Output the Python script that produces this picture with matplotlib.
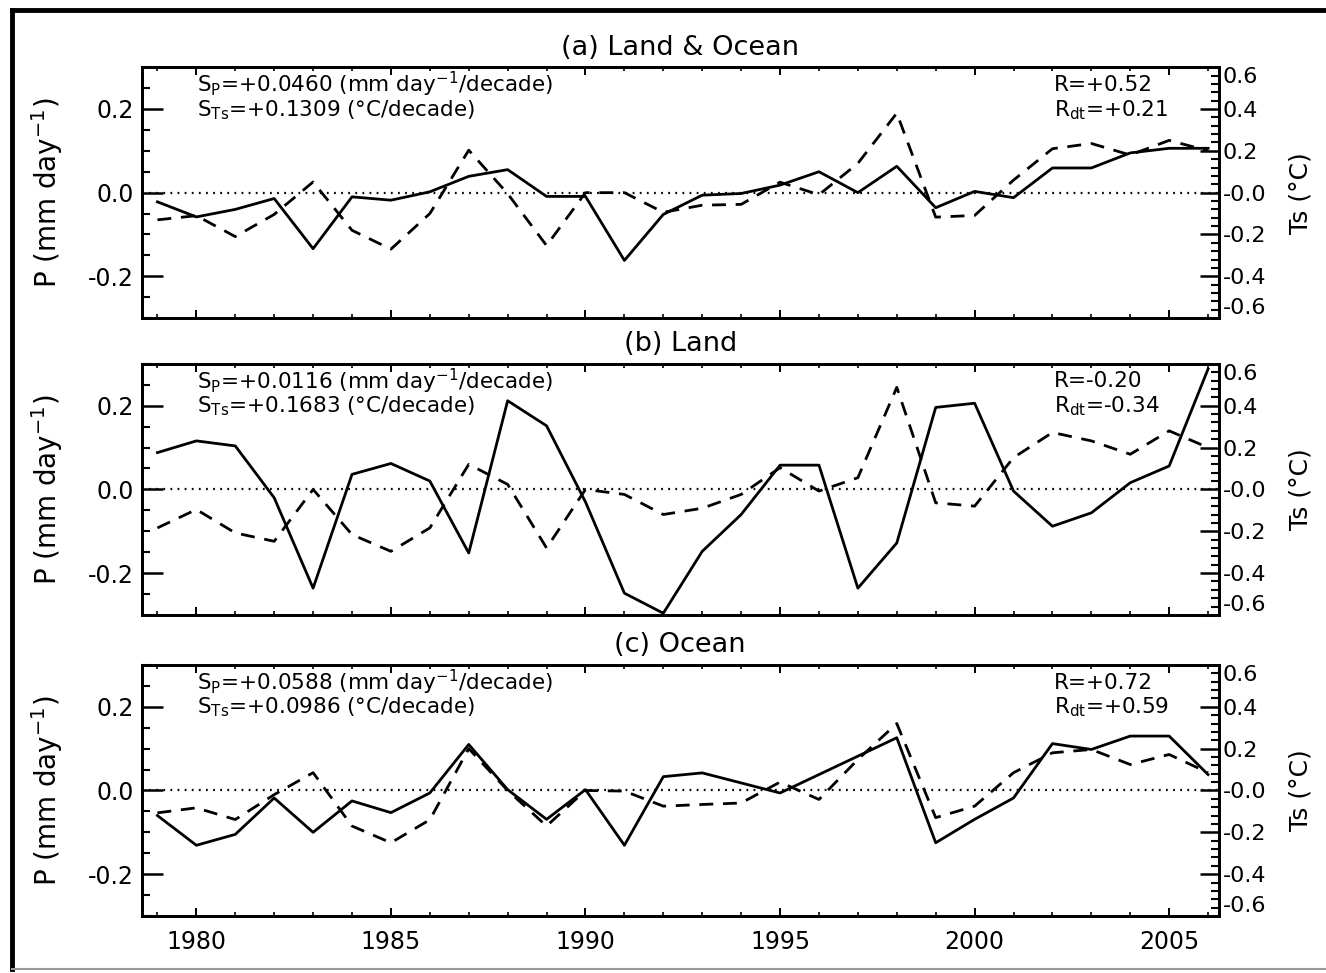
import numpy as np
import matplotlib
matplotlib.use('Agg')
import matplotlib.pyplot as plt
from matplotlib.ticker import MultipleLocator
from matplotlib.lines import Line2D

years = np.arange(1979, 2007)

# (a) land & ocean
p_all = [-0.022, -0.058, -0.040, -0.014, -0.134, -0.010, -0.018, 0.002, 0.039, 0.055,
         -0.009, -0.009, -0.162, -0.052, -0.006, -0.002, 0.018, 0.050, 0.000, 0.063,
         -0.036, 0.003, -0.012, 0.059, 0.059, 0.095, 0.106, 0.106]
ts_all = [-0.130, -0.110, -0.210, -0.104, 0.051, -0.180, -0.270, -0.100, 0.203, -0.005,
          -0.253, 0.000, 0.000, -0.094, -0.060, -0.056, 0.050, -0.010, 0.140, 0.380,
          -0.117, -0.109, 0.060, 0.210, 0.235, 0.180, 0.250, 0.200]

# (b) land
p_land = [0.088, 0.116, 0.104, -0.020, -0.236, 0.036, 0.062, 0.020, -0.152, 0.212,
          0.152, -0.030, -0.248, -0.296, -0.148, -0.060, 0.058, 0.058, -0.236, -0.128,
          0.196, 0.206, -0.004, -0.088, -0.056, 0.016, 0.056, 0.288]
ts_land = [-0.184, -0.096, -0.208, -0.248, 0.000, -0.216, -0.296, -0.184, 0.120, 0.024,
           -0.280, 0.000, -0.024, -0.120, -0.090, -0.024, 0.104, -0.008, 0.056, 0.488,
           -0.064, -0.080, 0.152, 0.272, 0.232, 0.168, 0.280, 0.200]

# (c) ocean
p_ocean = [-0.060, -0.131, -0.105, -0.018, -0.100, -0.025, -0.053, -0.006, 0.110, 0.002,
           -0.069, 0.002, -0.131, 0.033, 0.042, 0.018, -0.006, 0.038, 0.082, 0.126,
           -0.125, -0.069, -0.018, 0.112, 0.098, 0.130, 0.130, 0.038]
ts_ocean = [-0.107, -0.083, -0.139, -0.020, 0.085, -0.170, -0.250, -0.140, 0.200, 0.000,
            -0.170, 0.000, -0.003, -0.075, -0.067, -0.060, 0.040, -0.043, 0.148, 0.320,
            -0.130, -0.075, 0.085, 0.180, 0.196, 0.124, 0.172, 0.085]

titles = ['(a) Land & Ocean', '(b) Land', '(c) Ocean']
s_p = ['+0.0460', '+0.0116', '+0.0588']
s_ts = ['+0.1309', '+0.1683', '+0.0986']
r_val = ['+0.52', '-0.20', '+0.72']
r_dt = ['+0.21', '-0.34', '+0.59']
p_series = [p_all, p_land, p_ocean]
ts_series = [ts_all, ts_land, ts_ocean]

left_ticks = [-0.2, 0.0, 0.2]
left_labels = ['-0.2', '0.0', '0.2']
right_ticks = [-0.6, -0.4, -0.2, 0.0, 0.2, 0.4, 0.6]
right_labels = ['-0.6', '-0.4', '-0.2', '-0.0', '0.2', '0.4', '0.6']

fig = plt.figure(figsize=(13.26, 9.73), dpi=100)

# outer frame like the scanned figure
fig.add_artist(Line2D([0.009, 1.0], [0.9895, 0.9895], color='k', lw=3.5, transform=fig.transFigure))
fig.add_artist(Line2D([0.009, 0.009], [0.004, 0.9895], color='k', lw=3.5, transform=fig.transFigure))
fig.add_artist(Line2D([0.009, 1.0], [0.004, 0.004], color='0.6', lw=1.5, transform=fig.transFigure))

bottoms = [0.673, 0.368, 0.0586]
for i in range(3):
    ax = fig.add_axes([0.107, bottoms[i], 0.812, 0.258])
    ax.plot(years, p_series[i], color='k', lw=2.0)
    ax.axhline(0, color='k', lw=1.6, ls=(0, (0.8, 2.4)))
    ax.set_xlim(1978.6, 2006.27)
    ax.set_ylim(-0.3, 0.3)
    ax.set_yticks(left_ticks, left_labels)
    ax.yaxis.set_minor_locator(MultipleLocator(0.05))
    ax.xaxis.set_major_locator(MultipleLocator(5))
    ax.xaxis.set_minor_locator(MultipleLocator(1))
    ax.tick_params(axis='y', which='major', direction='in', length=15, width=1.8, labelsize=17, pad=6)
    ax.tick_params(axis='y', which='minor', direction='in', length=6, width=1.5)
    ax.tick_params(axis='x', which='major', direction='in', length=6, width=1.4, top=True,
                   labelsize=17, pad=10)
    ax.tick_params(axis='x', which='minor', direction='in', length=3, width=1.2, top=True)
    if i < 2:
        ax.tick_params(axis='x', labelbottom=False)
    for sp in ax.spines.values():
        sp.set_linewidth(2.0)
    ax.set_ylabel(r'P (mm day$^{-1}$)', fontsize=20, labelpad=16)
    ax.set_title(titles[i], fontsize=19.5, pad=9)

    ax.text(0.051, 0.93, r'S$_\mathrm{P}$=' + s_p[i] + r' (mm day$^{-1}$/decade)',
            transform=ax.transAxes, fontsize=15.5, va='center', ha='left')
    ax.text(0.051, 0.83, r'S$_\mathrm{Ts}$=' + s_ts[i] + ' (°C/decade)',
            transform=ax.transAxes, fontsize=15.5, va='center', ha='left')
    ax.text(0.847, 0.93, 'R=' + r_val[i], transform=ax.transAxes, fontsize=15.5,
            va='center', ha='left')
    ax.text(0.847, 0.83, r'R$_\mathrm{dt}$=' + r_dt[i], transform=ax.transAxes, fontsize=15.5,
            va='center', ha='left')

    ax2 = ax.twinx()
    ax2.plot(years, ts_series[i], color='k', lw=2.0, ls=(0, (5, 3.5)))
    ax2.set_ylim(-0.6, 0.6)
    ax2.set_yticks(right_ticks, right_labels)
    ax2.yaxis.set_minor_locator(MultipleLocator(0.04))
    ax2.tick_params(axis='y', which='major', direction='in', length=14, width=1.8, labelsize=16, pad=3)
    ax2.tick_params(axis='y', which='minor', direction='in', length=6, width=1.5)
    labs = ax2.get_yticklabels()
    labs[0].set_va('bottom')
    labs[-1].set_va('top')
    ax2.set_ylabel('Ts (°C)', fontsize=18, labelpad=16)
    for sp in ax2.spines.values():
        sp.set_linewidth(2.0)

fig.savefig('out.png', dpi=100)
